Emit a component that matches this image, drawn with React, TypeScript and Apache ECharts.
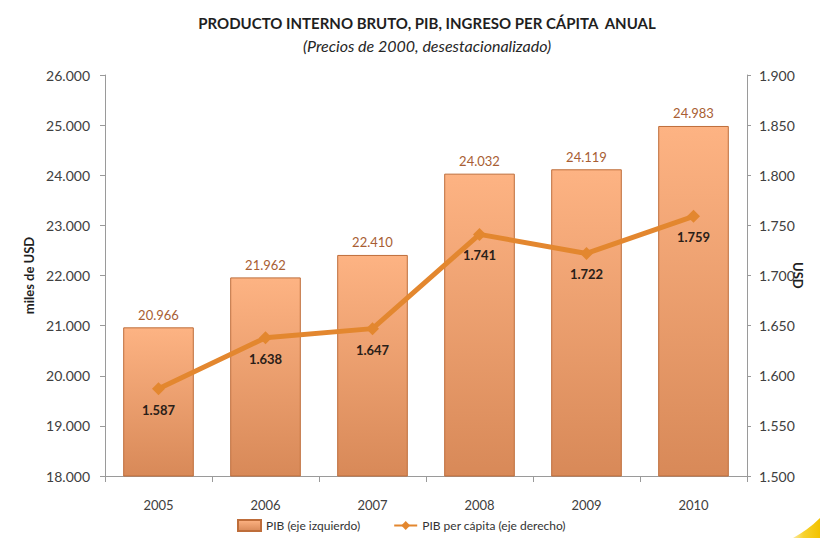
import React, { useEffect, useRef } from "react";
import * as echarts from "echarts";

const categories = ["2005", "2006", "2007", "2008", "2009", "2010"];
const pibValues = [20966, 21962, 22410, 24032, 24119, 24983];
const perCapitaValues = [1587, 1638, 1647, 1741, 1722, 1759];
const titleText = "PRODUCTO INTERNO BRUTO, PIB, INGRESO PER CÁPITA  ANUAL";
const subtitleText = "(Precios de 2000, desestacionalizado)";
const pibName = "PIB (eje izquierdo)";
const perCapitaName = "PIB per cápita (eje derecho)";

const fmt = (v: number) =>
  String(Math.round(v)).replace(/\B(?=(\d{3})+(?!\d))/g, ".");

echarts.graphic.registerShape(
  "swoosh",
  echarts.graphic.extendPath(
    "M0 20 C 9 15, 18 9, 27 0 L27 20 Z",
    {}
  )
);

export default function App() {
  const ref = useRef<HTMLDivElement>(null);
  useEffect(() => {
    if (!ref.current) return;
    const chart = echarts.init(ref.current, undefined, { renderer: "svg" });
    const font = "Lato, 'Open Sans', sans-serif";
    chart.setOption({
      animation: false,
      backgroundColor: "#ffffff",
      textStyle: { fontFamily: font },
      title: {
        text: titleText,
        subtext: subtitleText,
        left: 422,
        textAlign: "center",
        top: 10,
        itemGap: 7,
        textStyle: { fontFamily: font, fontSize: 15, fontWeight: "bold", color: "#1f1f1f" },
        subtextStyle: { fontFamily: font, fontSize: 16, fontStyle: "italic", color: "#262626" },
      },
      legend: {
        left: 232,
        top: 514,
        itemWidth: 23,
        itemHeight: 11,
        itemGap: 33,
        textStyle: { fontFamily: font, fontSize: 12, color: "#333" },
        data: [
          { name: pibName, icon: "rect" },
          { name: perCapitaName },
        ],
      },
      grid: { left: 105, right: 73, top: 75, bottom: 62, containLabel: false },
      xAxis: {
        type: "category",
        data: categories,
        boundaryGap: true,
        axisLine: { lineStyle: { color: "#9a9a9a", width: 1 } },
        axisTick: { show: true, alignWithLabel: false, length: 6, lineStyle: { color: "#9a9a9a" } },
        axisLabel: { color: "#404040", fontSize: 13, margin: 22, fontFamily: font },
      },
      yAxis: [
        {
          type: "value",
          min: 18000,
          max: 26000,
          interval: 1000,
          name: "miles de USD",
          nameLocation: "middle",
          nameGap: 70,
          nameTextStyle: { fontFamily: font, fontSize: 13, fontWeight: "bold", color: "#1f1f1f" },
          axisLine: { show: true, lineStyle: { color: "#9a9a9a" } },
          axisTick: { show: true, length: 5, lineStyle: { color: "#9a9a9a" } },
          splitLine: { show: false },
          axisLabel: { color: "#404040", fontSize: 14, margin: 15, formatter: (v: number) => fmt(v), fontFamily: font },
        },
        {
          type: "value",
          min: 1500,
          max: 1900,
          interval: 50,
          position: "right",
          axisLine: { show: true, lineStyle: { color: "#9a9a9a" } },
          axisTick: { show: true, length: 4, lineStyle: { color: "#9a9a9a" } },
          splitLine: { show: false },
          axisLabel: { color: "#404040", fontSize: 14, margin: 12, formatter: (v: number) => fmt(v), fontFamily: font },
        },
      ],
      series: [
        {
          name: pibName,
          type: "bar",
          yAxisIndex: 0,
          data: pibValues,
          barWidth: "66%",
          itemStyle: {
            color: new echarts.graphic.LinearGradient(0, 0, 0, 1, [
              { offset: 0, color: "#FDB383" },
              { offset: 1, color: "#D88958" },
            ]),
            borderColor: "#BE6D3A",
            borderWidth: 1,
          },
          label: {
            show: true,
            position: "top",
            distance: 6,
            color: "#A85E33",
            fontSize: 13,
            fontFamily: font,
            formatter: (p: any) => fmt(p.value),
          },
          z: 2,
        },
        {
          name: perCapitaName,
          type: "line",
          yAxisIndex: 1,
          data: perCapitaValues,
          symbol: "diamond",
          symbolSize: 13,
          lineStyle: { color: "#E3872F", width: 5 },
          itemStyle: { color: "#E3872F" },
          label: {
            show: true,
            position: "bottom",
            distance: 8,
            color: "#2a2018",
            fontSize: 13,
            fontWeight: "bold",
            fontFamily: font,
            formatter: (p: any) => fmt(p.value),
          },
          z: 3,
        },
      ],
      graphic: [
        {
          type: "text",
          x: 804,
          y: 262,
          rotation: -Math.PI / 2,
          style: { text: "USD", font: `bold 13px ${font}`, fill: "#1f1f1f" },
        },
        {
          type: "swoosh",
          x: 793,
          y: 518,
          scaleX: 1,
          scaleY: 1,
          style: {
            fill: new echarts.graphic.LinearGradient(0, 0, 1, 0, [
              { offset: 0, color: "#FBE8A0" },
              { offset: 0.4, color: "#F7D22E" },
              { offset: 1, color: "#F2C200" },
            ]),
          },
        },
      ],
    });
    return () => chart.dispose();
  }, []);
  return (
    <div
      ref={ref}
      style={{ position: "fixed", left: 0, top: 0, width: 820, height: 538 }}
    />
  );
}
